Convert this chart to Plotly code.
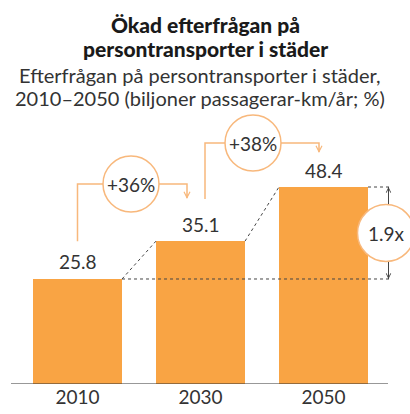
import plotly.graph_objects as go

# ---------------- data ----------------
years = ["2010", "2030", "2050"]
demand = [25.8, 35.1, 48.4]              # biljoner passagerar-km/år
growth_labels = ["+36%", "+38%"]
multiple_label = "1.9x"

title_lines = ["Ökad efterfrågan på", "persontransporter i städer"]
subtitle_lines = ["Efterfrågan på persontransporter i städer,",
                  "2010–2050 (biljoner passagerar-km/år; %)"]

# ---------------- styling / geometry ----------------
W, H = 410, 414
BAR_COLOR = "#F9A444"
LINE_ORANGE = "#F8B87C"
DARK = "#333333"
FONT = "Lato"

BASE_PX = 384          # pixel row of the baseline
PX_PER_UNIT = 4.07     # vertical scale
SLOT_PX = 123          # distance between category centres
X0_PX = 77.5           # pixel column of first category centre
BAR_W = 0.724


def xd(px):
    return (px - X0_PX) / SLOT_PX


def yd(py):
    return (BASE_PX - py) / PX_PER_UNIT


def hd(p):
    return p / PX_PER_UNIT


xs = list(range(len(years)))

fig = go.Figure()
fig.add_trace(go.Bar(x=xs, y=demand, width=BAR_W, marker=dict(color=BAR_COLOR, line=dict(width=0)),
                     hoverinfo="skip"))

shapes = []
annotations = []

# baseline
shapes.append(dict(type="line", xref="x", yref="y", x0=xd(11), x1=xd(388), y0=0, y1=0,
                   line=dict(color=DARK, width=1.2)))

# value labels
for x, v in zip(xs, demand):
    annotations.append(dict(x=x, y=v + hd(17), xref="x", yref="y", text=f"{v:.1f}", showarrow=False,
                            font=dict(family=FONT, size=19, color=DARK), yanchor="middle"))

# dashed guide lines
dash = dict(color="#444444", width=1, dash="3px,3px")
r0 = xs[0] + BAR_W / 2
shapes.append(dict(type="line", xref="x", yref="y", x0=r0, x1=xd(391), y0=demand[0], y1=demand[0], line=dash))
shapes.append(dict(type="line", xref="x", yref="y", x0=xs[2] + BAR_W / 2, x1=xd(391),
                   y0=demand[2], y1=demand[2], line=dash))
shapes.append(dict(type="line", xref="x", yref="y", x0=r0, x1=xs[1] - BAR_W / 2,
                   y0=demand[0], y1=demand[1], line=dash))
shapes.append(dict(type="line", xref="x", yref="y", x0=xs[1] + BAR_W / 2, x1=xs[2] - BAR_W / 2,
                   y0=demand[1], y1=demand[2], line=dash))

# orange growth connectors
connectors = [
    # start x, start y, top y, end x, tip y, circle x
    (xs[0], demand[1], yd(184), xd(187), yd(199), xd(131)),
    (xd(205), yd(199), yd(143), xd(319), yd(153), xd(253)),
]
R = 28
for (sx, sy, ty, ex, tipy, cx), lab in zip(connectors, growth_labels):
    shapes.append(dict(type="path", xref="x", yref="y",
                       path=f"M{sx},{sy} L{sx},{ty} L{ex},{ty} L{ex},{tipy + hd(1)}",
                       line=dict(color=LINE_ORANGE, width=1.5)))
    annotations.append(dict(x=ex, y=tipy, xref="x", yref="y", ax=0, ay=-6, axref="pixel", ayref="pixel",
                            text="", showarrow=True, arrowhead=5, arrowsize=0.9, arrowwidth=1.3,
                            arrowcolor=LINE_ORANGE))
    shapes.append(dict(type="circle", xref="x", yref="y", xsizemode="pixel", ysizemode="pixel",
                       xanchor=cx, yanchor=ty, x0=-R, x1=R, y0=-R, y1=R,
                       fillcolor="white", line=dict(color=LINE_ORANGE, width=1.5), layer="above"))
    annotations.append(dict(x=cx, y=ty, xref="x", yref="y", text=lab, showarrow=False,
                            font=dict(family=FONT, size=19, color=DARK), yanchor="middle"))

# 1.9x multiple marker
mx = xd(388.5)
my = (demand[0] + demand[2]) / 2
RM = 28.5
shapes.append(dict(type="line", xref="x", yref="y", x0=mx, x1=mx, y0=demand[0], y1=demand[2],
                   line=dict(color="#444444", width=1)))
annotations.append(dict(x=mx, y=demand[2], xref="x", yref="y", ax=0, ay=18, text="", showarrow=True,
                        arrowhead=5, arrowsize=0.9, arrowwidth=1, arrowcolor="#444444"))
annotations.append(dict(x=mx, y=demand[0], xref="x", yref="y", ax=0, ay=-18, text="", showarrow=True,
                        arrowhead=5, arrowsize=0.9, arrowwidth=1, arrowcolor="#444444"))
shapes.append(dict(type="circle", xref="x", yref="y", xsizemode="pixel", ysizemode="pixel",
                   xanchor=xd(386), yanchor=my, x0=-RM, x1=RM, y0=-RM, y1=RM,
                   fillcolor="white", line=dict(color=LINE_ORANGE, width=1.5), layer="above"))
annotations.append(dict(x=xd(386), y=my, xref="x", yref="y", text=multiple_label, showarrow=False,
                        font=dict(family=FONT, size=19, color=DARK), yanchor="middle"))

# titles
for txt, py in zip(title_lines, [24, 48]):
    annotations.append(dict(x=xd(205), y=yd(py), xref="x", yref="y", text=txt, showarrow=False,
                            font=dict(family=FONT, size=21, color="#1a1a1a", weight=900), yanchor="middle"))
for txt, py in zip(subtitle_lines, [75, 98]):
    annotations.append(dict(x=xd(200), y=yd(py), xref="x", yref="y", text=txt, showarrow=False,
                            font=dict(family=FONT, size=20, color=DARK), yanchor="middle"))

fig.update_layout(
    width=W, height=H,
    margin=dict(l=0, r=0, t=0, b=H - BASE_PX),
    paper_bgcolor="white", plot_bgcolor="white",
    showlegend=False,
    shapes=shapes, annotations=annotations,
    bargap=0,
    xaxis=dict(range=[xd(0), xd(W)], tickvals=xs, ticktext=years, showgrid=False, zeroline=False,
               showline=False, ticks="", tickfont=dict(family=FONT, size=19, color=DARK), fixedrange=True),
    yaxis=dict(range=[0, yd(0)], visible=False, fixedrange=True),
)

fig.write_html("out.html", config={"displayModeBar": False},
               post_script="document.body.style.margin='0';document.body.style.overflow='hidden';")
